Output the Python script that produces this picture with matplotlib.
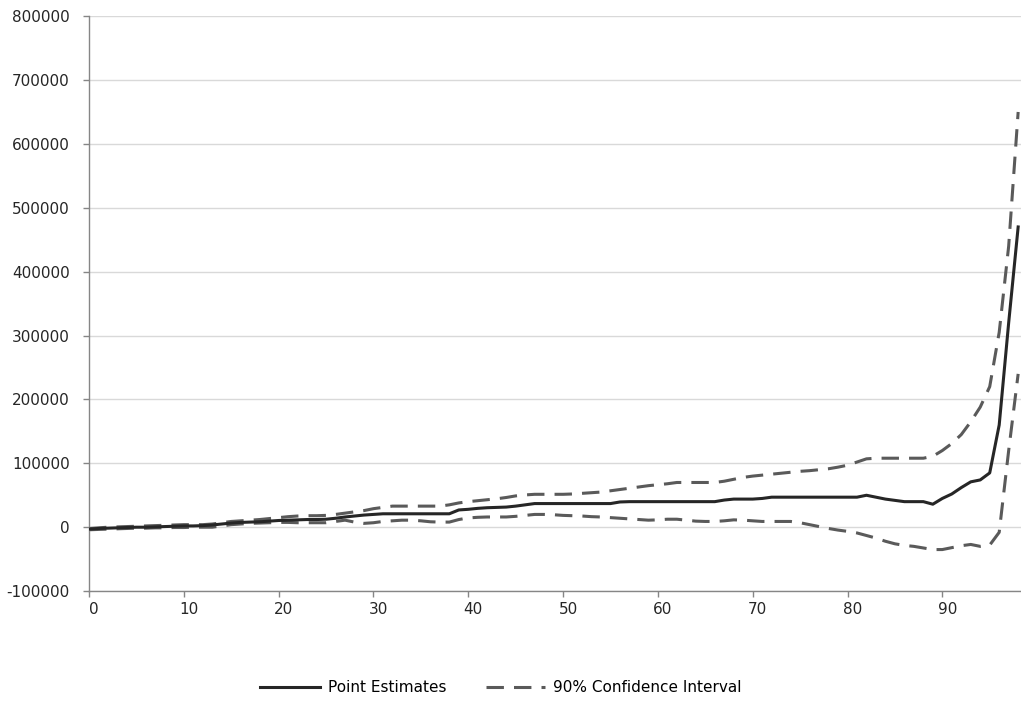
# Point estimates with 90% confidence band, Excel-style line chart
import numpy as np
import matplotlib
matplotlib.use("Agg")
import matplotlib.pyplot as plt
import matplotlib.transforms as mtransforms

# values, index 0..98
point_est = [-3000, -2000, -1500, -1000, -500, 0, 0, 500, 1000, 1500,
             2000, 2000, 2500, 3500, 5000, 6500, 7500, 8000, 8500, 9500,
             10500, 11000, 11500, 12000, 12000, 12500, 14000, 16000, 17500, 19000,
             20000, 21000, 21000, 21000, 21000, 21000, 21000, 21000, 21000, 27000,
             28000, 29500, 30500, 31000, 31500, 33000, 35000, 37000, 37000, 37000,
             37000, 37000, 37000, 37000, 37000, 37000, 39500, 40000, 40000, 40000,
             40000, 40000, 40000, 40000, 40000, 40000, 40000, 42500, 44000, 44000,
             44000, 45000, 47000, 47000, 47000, 47000, 47000, 47000, 47000, 47000,
             47000, 47000, 50000, 47000, 44000, 42000, 40000, 40000, 40000, 36000,
             45000, 52000, 62000, 71000, 74000, 85000, 160000, 320000, 470000]

ci_upper = [-2000, -1000, 0, 500, 1000, 1500, 2000, 2500, 3000, 3500,
            4000, 4000, 4000, 5000, 7000, 9000, 10000, 11000, 12000, 13500,
            15000, 16500, 17500, 18000, 18000, 18500, 20000, 22000, 24000, 26000,
            29000, 31000, 33000, 33000, 33000, 33000, 33000, 33000, 35000, 38000,
            40000, 41500, 43000, 44500, 46500, 49000, 50500, 51500, 51500, 51500,
            51500, 52000, 53000, 54000, 55000, 57000, 59000, 61000, 63000, 65000,
            66500, 68000, 70000, 70000, 70000, 70000, 70000, 72000, 75000, 78000,
            80000, 81500, 83000, 84500, 86000, 87500, 88500, 90000, 91500, 94000,
            97000, 102000, 107000, 108000, 108000, 108000, 108000, 108000, 108000, 111000,
            120000, 131000, 145000, 165000, 188000, 220000, 305000, 440000, 650000]

ci_lower = [-4000, -3500, -3000, -2500, -2000, -1500, -1500, -1000, -1000, -500,
            -500, 0, 0, 0, 2000, 4000, 5000, 6000, 6500, 7000,
            7500, 7500, 7000, 7000, 7000, 7000, 9000, 11000, 8000, 6000,
            7000, 9000, 10000, 11000, 11000, 10000, 8500, 8000, 8000, 12000,
            14500, 15500, 16000, 16000, 16000, 17000, 18500, 20000, 20000, 19500,
            18500, 18000, 17500, 16500, 16000, 15000, 14000, 13000, 12000, 11000,
            11500, 12500, 12500, 11000, 9500, 9000, 9000, 10000, 11500, 11000,
            10000, 9000, 9000, 9000, 9000, 7000, 4000, 1000, -2000, -4500,
            -6500, -9000, -13000, -17000, -22000, -26000, -28500, -30000, -32500, -35000,
            -35000, -32000, -29000, -27000, -30000, -28000, -8000, 120000, 240000]

x = np.arange(len(point_est))

plt.rcParams['font.family'] = ['DejaVu Sans']
plt.rcParams['axes.unicode_minus'] = False

fig = plt.figure(figsize=(10.21, 7.02), dpi=100)
ax = fig.add_axes([0.0872, 0.158, 0.9128, 0.819])

ax.plot(x, point_est, color='#262626', lw=2.2, label='Point Estimates', zorder=3)
ax.plot(x, ci_upper, color='#5a5a5a', lw=2.2, dashes=(5.7, 3.3),
        label='90% Confidence Interval', zorder=2)
ax.plot(x, ci_lower, color='#5a5a5a', lw=2.2, dashes=(5.7, 3.3), zorder=2)

ax.set_xlim(0, 98.3)
ax.set_ylim(-100000, 800000)
ax.set_xticks(np.arange(0, 100, 10))
ax.set_yticks(np.arange(-100000, 800001, 100000))
ax.yaxis.grid(True, color='#d9d9d9', lw=1.0)
ax.set_axisbelow(True)

for side in ['top', 'right']:
    ax.spines[side].set_visible(False)
for side in ['left', 'bottom']:
    ax.spines[side].set_color('#868686')
    ax.spines[side].set_linewidth(1.0)

ax.tick_params(axis='both', colors='#868686', labelcolor='#262626',
               labelsize=11, length=4, width=1.0, direction='out')
ax.tick_params(axis='y', pad=10)
ax.tick_params(axis='x', pad=4)

# Excel puts category labels a little right of the tick
shift = mtransforms.ScaledTranslation(5 / 100, 0, fig.dpi_scale_trans)
for lab in ax.get_xticklabels():
    lab.set_transform(lab.get_transform() + shift)

fig.legend(loc='center', bbox_to_anchor=(501 / 1021, 1 - 688 / 702), ncol=2,
           frameon=False, fontsize=11, handlelength=3.9, handletextpad=0.5,
           columnspacing=2.6)

fig.savefig('out.png', dpi=100)
